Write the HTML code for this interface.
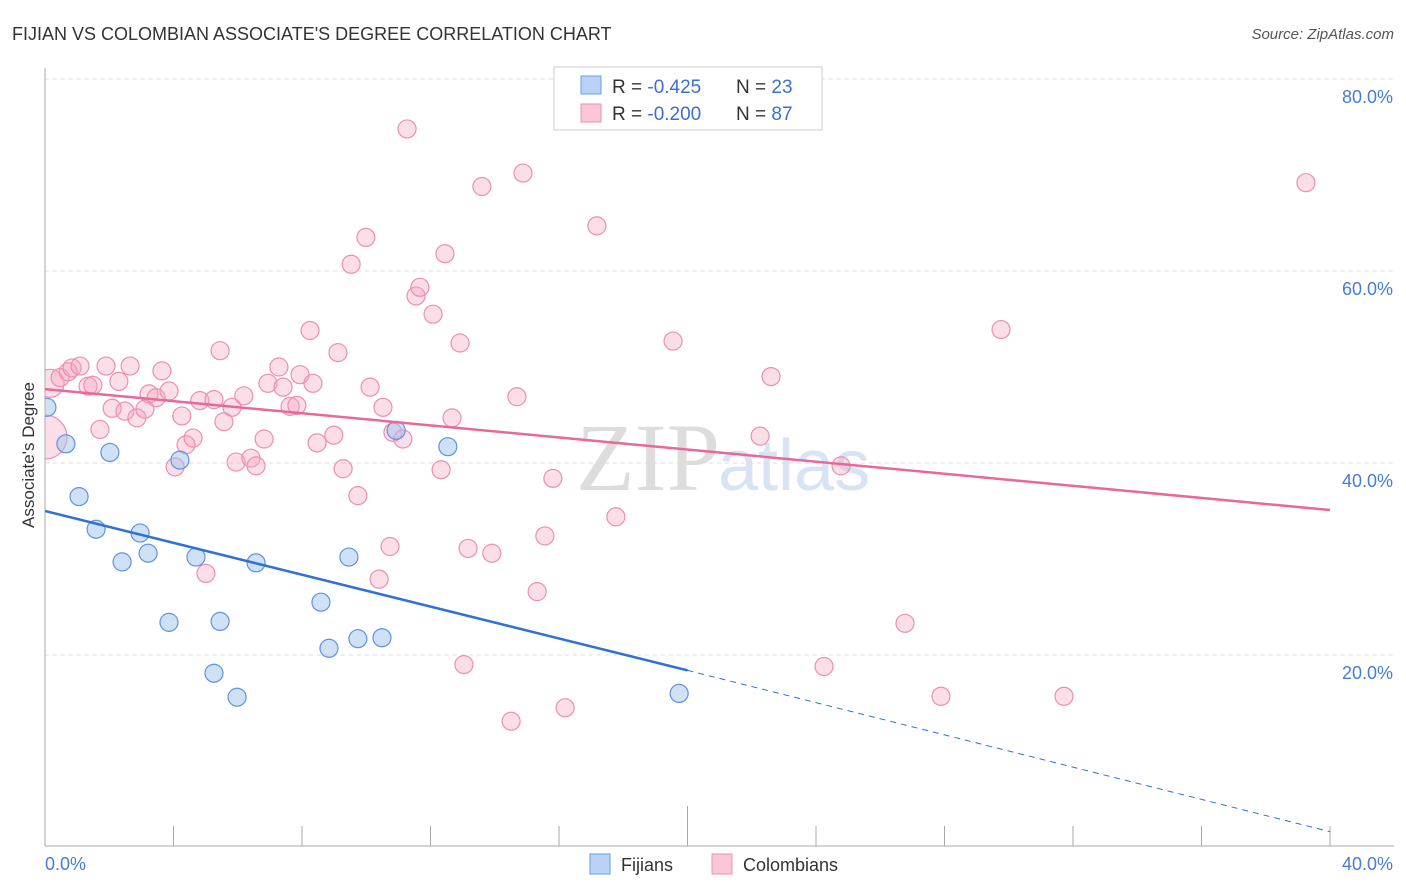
<!DOCTYPE html>
<html><head><meta charset="utf-8"><style>
body{margin:0;background:#fff;font-family:"Liberation Sans",sans-serif;}
#wrap{position:relative;width:1406px;height:892px;overflow:hidden;}
</style></head><body>
<div id="wrap">
<svg id="svg" width="1406" height="892" xmlns="http://www.w3.org/2000/svg">
<defs><clipPath id="plotclip"><rect x="45" y="60" width="1360" height="786"/></clipPath></defs>
<text x="12" y="40" font-size="18" fill="#333">FIJIAN VS COLOMBIAN ASSOCIATE'S DEGREE CORRELATION CHART</text>
<text x="1394" y="39" font-size="15" fill="#555" text-anchor="end" font-style="italic">Source: ZipAtlas.com</text>
<text x="720" y="490" font-size="96" fill="#ddd" text-anchor="end" font-family="Liberation Serif">ZIP</text>
<text x="718" y="490" font-size="72" fill="#d8e4f4">atlas</text>
<g id="grid"></g>
<g id="axes"></g>
<g id="marks" clip-path="url(#plotclip)"></g>
<text transform="translate(34,455) rotate(-90)" font-size="17" fill="#333" text-anchor="middle">Associate's Degree</text>
<g>
<rect x="554" y="67" width="268" height="63" fill="#fff" stroke="#ccc"/>
<rect x="581" y="76" width="20" height="18" fill="#b8d3f5" stroke="#6d9de0"/>
<rect x="581" y="104" width="20" height="18" fill="#fbc7d8" stroke="#ee8fb0"/>
<text x="612" y="93" font-size="19" fill="#333">R = <tspan fill="#3b6fd0"> -0.425</tspan><tspan x="736">N = </tspan><tspan fill="#3b6fd0">23</tspan></text>
<text x="612" y="120" font-size="19" fill="#333">R = <tspan fill="#3b6fd0"> -0.200</tspan><tspan x="736">N = </tspan><tspan fill="#3b6fd0">87</tspan></text>
</g>
<g>
<rect x="590" y="854" width="20" height="20" fill="#b8d3f5" stroke="#6d9de0"/>
<text x="621" y="871" font-size="18" fill="#333">Fijians</text>
<rect x="712" y="854" width="20" height="20" fill="#fbc7d8" stroke="#ee8fb0"/>
<text x="743" y="871" font-size="18" fill="#333">Colombians</text>
</g>
</svg>
</div>
<script>
const yTicks=[20,40,60,80];
const yTickLabels=["20.0%","40.0%","60.0%","80.0%"];
const xTicks=[0,4,8,12,16,20,24,28,32,36,40];
const xEndLabels=["0.0%","40.0%"];
const fijX=[0.06,0.65,1.06,1.59,2.02,2.40,2.96,3.21,3.86,4.20,4.70,5.26,5.45,5.98,6.57,8.59,8.84,9.46,9.74,10.49,10.93,12.54,19.74];
const fijY=[45.8,42.0,36.5,33.1,41.1,29.7,32.7,30.6,23.4,40.3,30.2,18.1,23.5,15.6,29.6,25.5,20.7,30.2,21.7,21.8,43.4,41.7,16.0];
const colX=[0,.16,.47,.72,.84,1.09,1.34,1.49,1.71,1.90,2.09,2.30,2.49,2.65,2.86,3.11,3.24,3.46,3.64,3.86,4.05,4.26,4.39,4.61,4.82,5.01,5.26,5.45,5.57,5.82,5.95,6.19,6.41,6.57,6.82,6.94,7.28,7.41,7.63,7.84,7.94,8.25,8.34,8.47,8.99,9.12,9.28,9.53,9.74,9.99,10.12,10.40,10.52,10.74,10.83,11.14,11.27,11.55,11.67,12.08,12.33,12.45,12.67,12.92,13.04,13.17,13.60,13.91,14.51,14.69,14.88,15.32,15.56,15.81,16.19,17.18,17.77,19.55,22.26,22.60,24.25,24.78,26.77,27.89,29.76,31.72,39.25];
const colY=[42.7,48.3,48.9,49.5,49.9,50.1,48.0,48.1,43.5,50.1,45.7,48.5,45.4,50.1,44.7,45.6,47.2,46.8,49.6,47.5,39.6,44.9,41.9,42.6,46.5,28.5,46.6,51.7,44.3,45.8,40.1,47.0,40.5,39.7,42.5,48.3,50.0,47.9,45.9,46.0,49.2,53.8,48.3,42.1,42.9,51.5,39.4,60.7,36.6,63.5,47.9,27.9,45.8,31.3,43.2,42.5,74.8,57.4,58.3,55.5,39.3,61.8,44.7,52.5,19.0,31.1,68.8,30.6,13.1,46.9,70.2,26.6,32.4,38.4,14.5,64.7,34.4,52.7,42.8,49.0,18.8,39.7,23.3,15.7,53.9,15.7,69.2];
const colLine=[47.7,35.1];
const fijLine=[35.0,18.4,1.6];
const fijLineX=[0,20,40];

const NS="http://www.w3.org/2000/svg";
const X=v=>45+v*32.125;
const Y=v=>847-v*9.6;
function mk(tag,attrs,parent){const e=document.createElementNS(NS,tag);for(const k in attrs)e.setAttribute(k,attrs[k]);parent.appendChild(e);return e;}
const grid=document.getElementById('grid'),axes=document.getElementById('axes'),marks=document.getElementById('marks');
yTicks.forEach((t,i)=>{
  const l=mk('line',{x1:45,x2:1394,y1:Y(t),y2:Y(t),stroke:'#ddd','stroke-dasharray':'4,4'},grid);
  
  
  const tx=mk('text',{x:1393,y:Y(t)+24,'font-size':18,fill:'#4a7bd6','text-anchor':'end'},axes);
  tx.textContent=yTickLabels[i];
  
  
});
const ya=mk('line',{x1:45,x2:45,y1:68,y2:846,stroke:'#aaa'},axes);


const xa=mk('line',{x1:45,x2:1394,y1:846,y2:846,stroke:'#aaa'},axes);


xTicks.forEach(t=>{
  const l=mk('line',{x1:X(t),x2:X(t),y1:t==20?806:826,y2:846,stroke:'#aaa'},axes);
  
  
});
const xl0=mk('text',{x:45,y:870,'font-size':18,fill:'#4a7bd6'},axes);xl0.textContent=xEndLabels[0];


const xl1=mk('text',{x:1393,y:870,'font-size':18,fill:'#4a7bd6','text-anchor':'end'},axes);xl1.textContent=xEndLabels[1];



colX.forEach((x,i)=>{
  const r=i==0?22:(i==1?14:9);
  const c=mk('circle',{cx:X(x),cy:Y(colY[i]),r:r,fill:'rgba(246,160,190,0.35)',stroke:'#ec8fb0','stroke-width':1.2},marks);
  
  
});
fijX.forEach((x,i)=>{
  const c=mk('circle',{cx:X(x),cy:Y(fijY[i]),r:9,fill:'rgba(160,196,240,0.5)',stroke:'#5f93dc','stroke-width':1.2},marks);
  
  
});
const pl=mk('line',{x1:X(0),y1:Y(colLine[0]),x2:X(40),y2:Y(colLine[1]),stroke:'#e8689a','stroke-width':2.5},marks);


const bl=mk('line',{x1:X(fijLineX[0]),y1:Y(fijLine[0]),x2:X(fijLineX[1]),y2:Y(fijLine[1]),stroke:'#2f72d6','stroke-width':2.5},marks);


const bd=mk('line',{x1:X(fijLineX[1]),y1:Y(fijLine[1]),x2:X(fijLineX[2]),y2:Y(fijLine[2]),stroke:'#2f72d6','stroke-width':1,'stroke-dasharray':'6,5'},marks);


</script>
</body></html>
